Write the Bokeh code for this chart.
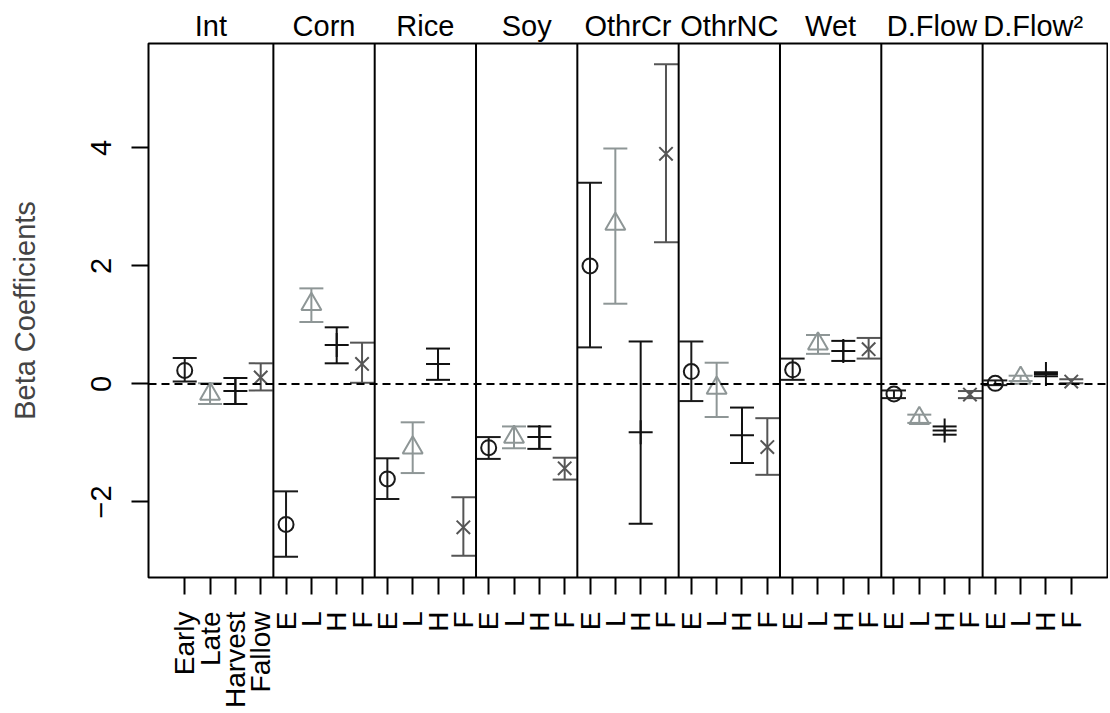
import numpy as np
from bokeh.plotting import figure
from bokeh.models import (ColumnDataSource, Range1d, FixedTicker, LinearAxis, Span,
                          Whisker, TeeHead)
from bokeh.embed import file_html
from bokeh.resources import INLINE

# ---------------- data ----------------
panels = ["Int", "Corn", "Rice", "Soy", "OthrCr", "OthrNC", "Wet", "D.Flow", "D.Flow\u00b2"]
seasons = ["Early", "Late", "Harvest", "Fallow"]
tick_labels = ["Early", "Late", "Harvest", "Fallow"] + ["E", "L", "H", "F"] * 8

early_est = [0.23, -2.38, -1.61, -1.08, 2.00, 0.21, 0.24, -0.17, 0.01]
early_lo = [0.04, -2.93, -1.95, -1.27, 0.62, -0.29, 0.07, -0.24, -0.02]
early_hi = [0.44, -1.82, -1.26, -0.90, 3.41, 0.72, 0.43, -0.11, 0.06]

late_est = [-0.17, 1.35, -1.08, -0.90, 2.71, -0.07, 0.68, -0.58, 0.10]
late_lo = [-0.34, 1.05, -1.51, -1.09, 1.36, -0.56, 0.51, -0.66, 0.05]
late_hi = [0.01, 1.62, -0.65, -0.72, 3.99, 0.36, 0.83, -0.52, 0.14]

harv_est = [-0.12, 0.66, 0.34, -0.90, -0.82, -0.87, 0.56, -0.79, 0.17]
harv_lo = [-0.34, 0.35, 0.07, -1.10, -2.37, -1.34, 0.39, -0.86, 0.13]
harv_hi = [0.10, 0.96, 0.60, -0.72, 0.72, -0.40, 0.73, -0.72, 0.20]

fall_est = [0.11, 0.34, -2.43, -1.43, 3.90, -1.07, 0.59, -0.18, 0.04]
fall_lo = [-0.11, 0.02, -2.91, -1.62, 2.40, -1.54, 0.43, -0.24, 0.01]
fall_hi = [0.35, 0.70, -1.92, -1.25, 5.42, -0.58, 0.78, -0.12, 0.08]

y_ticks = [-2, 0, 2, 4]
y_tick_labels = ["\u22122", "0", "2", "4"]

# ---------------- styles ----------------
FONT = "Liberation Sans"
FS = "29px"
styles = [
    dict(marker="circle", color="#1a1a1a", size=15),
    dict(marker="triangle", color="#8e9696", size=20),
    dict(marker="cross", color="#111111", size=24),
    dict(marker="x", color="#555555", size=19),
]
series = [(early_est, early_lo, early_hi), (late_est, late_lo, late_hi),
          (harv_est, harv_lo, harv_hi), (fall_est, fall_lo, fall_hi)]

n_pan = len(panels)
x_start, x_end = -0.43, 4 * n_pan + 1.43

p = figure(width=1108, height=711, output_backend="svg", toolbar_location=None,
           x_range=Range1d(x_start, x_end), y_range=Range1d(-3.28, 5.77),
           min_border_left=148, min_border_right=1, min_border_top=43,
           min_border_bottom=134, x_axis_type=None, y_axis_type=None)
p.grid.visible = False
p.outline_line_color = "black"
p.outline_line_width = 2
p.background_fill_color = "white"
p.border_fill_color = "white"

# y axis
yax = LinearAxis(ticker=FixedTicker(ticks=y_ticks),
                 major_label_overrides={t: l for t, l in zip(y_ticks, y_tick_labels)},
                 axis_label="Beta Coefficients")
yax.axis_line_color = None
yax.major_tick_out = 17
yax.major_tick_in = 0
yax.major_tick_line_width = 2
yax.minor_tick_line_color = None
yax.major_label_orientation = "parallel"
yax.major_label_standoff = 20
yax.major_label_text_font = FONT
yax.major_label_text_font_size = FS
yax.major_label_text_color = "black"
yax.axis_label_text_font = FONT
yax.axis_label_text_font_size = FS
yax.axis_label_text_font_style = "normal"
yax.axis_label_standoff = 48
p.add_layout(yax, "left")

# x axis (bottom)
x_ticks = list(range(1, 4 * n_pan + 1))
xax = LinearAxis(ticker=FixedTicker(ticks=x_ticks),
                 major_label_overrides={t: l for t, l in zip(x_ticks, tick_labels)})
xax.axis_line_color = None
xax.major_tick_out = 17
xax.major_tick_in = 0
xax.major_tick_line_width = 2
xax.minor_tick_line_color = None
xax.major_label_orientation = np.pi / 2
xax.major_label_standoff = 17
xax.major_label_text_font = FONT
xax.major_label_text_font_size = "28px"
xax.major_label_text_color = "black"
p.add_layout(xax, "below")

# panel titles (top axis)
centers = [(x_start + 4.5) / 2] + [4 * k + 2.5 for k in range(1, n_pan)]
tax = LinearAxis(ticker=FixedTicker(ticks=centers),
                 major_label_overrides={c: t for c, t in zip(centers, panels)})
tax.axis_line_color = None
tax.major_tick_line_color = None
tax.major_tick_out = 0
tax.major_tick_in = 0
tax.minor_tick_line_color = None
tax.major_label_standoff = 2
tax.major_label_text_font = FONT
tax.major_label_text_font_size = FS
tax.major_label_text_color = "black"
p.add_layout(tax, "above")

# zero line and dividers
p.add_layout(Span(location=0, dimension="width", line_color="black",
                  line_width=2, line_dash="8 5"))
for k in range(1, n_pan):
    p.add_layout(Span(location=4 * k + 0.5, dimension="height",
                      line_color="black", line_width=2))

# error bars and points
for s, ((est, lo, hi), st) in enumerate(zip(series, styles)):
    xs = np.arange(n_pan) * 4 + s + 1
    src = ColumnDataSource(dict(x=xs, y=est, lo=lo, hi=hi))
    w = Whisker(source=src, base="x", upper="hi", lower="lo", dimension="height",
                line_color=st["color"], line_width=2,
                upper_head=TeeHead(size=24, line_color=st["color"], line_width=2),
                lower_head=TeeHead(size=24, line_color=st["color"], line_width=2))
    p.add_layout(w)
    p.scatter("x", "y", source=src, marker=st["marker"], size=st["size"],
              fill_color=None, line_color=st["color"], line_width=2)

open("out.html", "w").write(file_html(p, INLINE))
